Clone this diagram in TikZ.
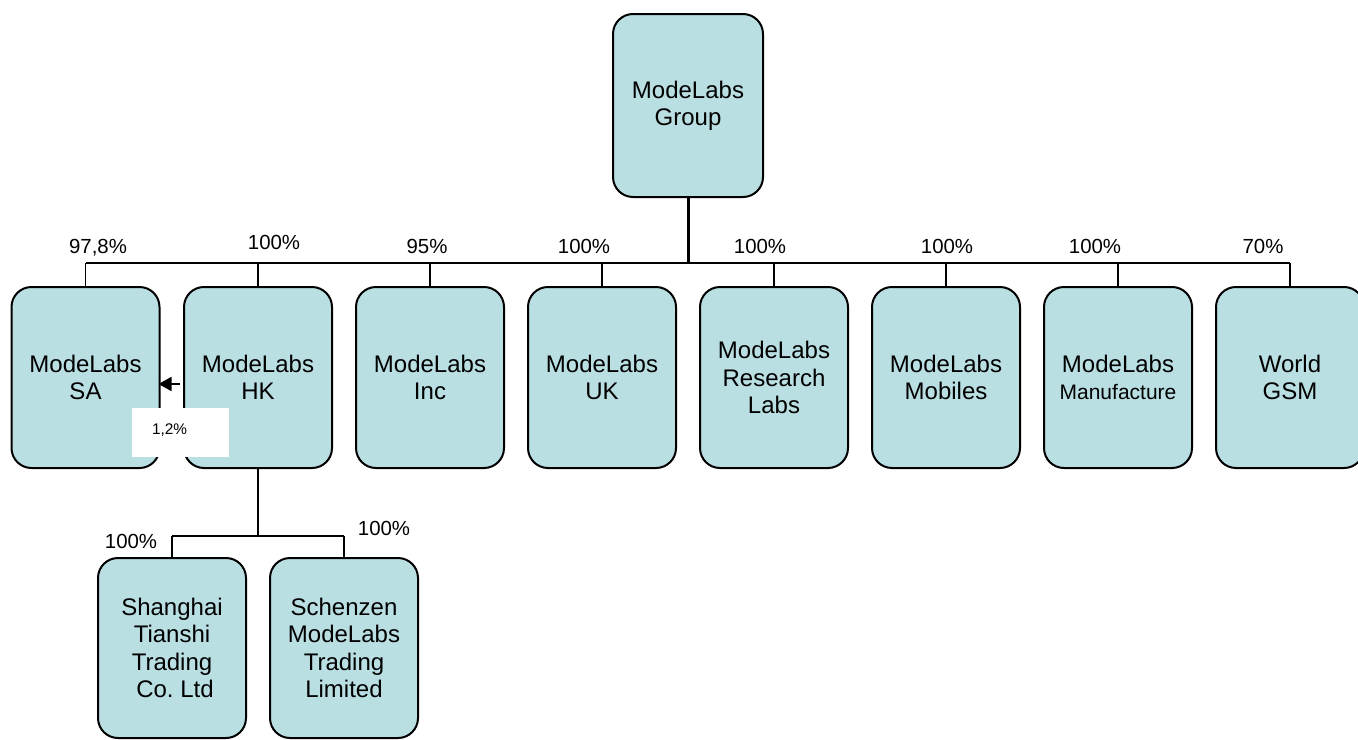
\documentclass[tikz,border=0pt]{standalone}
\usepackage{fontspec}
\setmainfont{Liberation Sans}
\usetikzlibrary{arrows.meta}
\frenchspacing
\definecolor{boxfill}{RGB}{185,223,227}
\tikzset{
  orgbox/.style={draw=black, line width=1pt, fill=boxfill, rounded corners=10pt,
    minimum width=74pt, minimum height=90.5pt, inner sep=0pt, align=center,
    font=\fontsize{12}{13.6}\selectfont},
  pct/.style={anchor=base, inner sep=0pt, font=\fontsize{10.2}{12}\selectfont},
  link/.style={draw=black, line width=0.8pt},
  stem/.style={draw=black, line width=1.5pt},
}
\begin{document}
\begin{tikzpicture}[x=0.5pt, y=-0.5pt]
\useasboundingbox (0,0) rectangle (1358,739);

% boxes
\node[orgbox, minimum width=75pt, minimum height=91.5pt] (grp) at (688,105.5) {ModeLabs\\Group};
\node[orgbox] (sa)  at (85.5,377.5)  {ModeLabs\\SA};
\node[orgbox] (hk)  at (258,377.5)   {ModeLabs\\HK};
\node[orgbox] (inc) at (430,377.5)   {ModeLabs\\Inc};
\node[orgbox] (uk)  at (602,377.5)   {ModeLabs\\UK};
\node[orgbox] (rl)  at (774,377.5)   {ModeLabs\\Research\\Labs};
\node[orgbox] (mob) at (946,377.5)   {ModeLabs\\Mobiles};
\node[orgbox] (man) at (1118,377.5)  {ModeLabs\\{\fontsize{10.5}{13.6}\selectfont Manufacture}};
\node[orgbox] (gsm) at (1290,377.5)  {World\\GSM};
\node[orgbox, minimum height=90pt] (sh) at (172,648) {Shanghai\\Tianshi\\Trading\\\hspace{3pt}Co. Ltd};
\node[orgbox, minimum height=90pt] (sz) at (344,648) {Schenzen\\ModeLabs\\Trading\\Limited};

% bus levels
\coordinate (busY) at (0,263);
\coordinate (subY) at (0,536);

% connectors
\draw[stem] (grp.south) -- (grp.south |- busY);
\draw[link] (sa.north |- busY) -- (gsm.north |- busY);
\foreach \n in {sa,hk,inc,uk,rl,mob,man,gsm}{
  \draw[link] (\n.north) -- (\n.north |- busY);
}
\draw[link] (hk.south) -- (hk.south |- subY);
\draw[link] (sh.north |- subY) -- (sz.north |- subY);
\draw[link] (sh.north) -- (sh.north |- subY);
\draw[link] (sz.north) -- (sz.north |- subY);

% percentages
\node[pct] (p1) at (98,253)   {97,8\%};
\node[pct] (p2) at (274,249)  {100\%};
\node[pct] (p3) at (427,253)  {95\%};
\node[pct] (p4) at (584,253)  {100\%};
\node[pct] (p5) at (760,253)  {100\%};
\node[pct] (p6) at (947,253)  {100\%};
\node[pct] (p7) at (1095,253) {100\%};
\node[pct] (p8) at (1263,253) {70\%};
\node[pct] (p9) at (131,548)  {100\%};
\node[pct] (p10) at (384,535) {100\%};

% cross holding arrow
\draw[link, -{Triangle[length=6.5pt, width=7pt]}, shorten <=1.5pt, shorten >=-1pt]
  ([yshift=-3.25pt]hk.west) -- ([yshift=-3.25pt]sa.east);

% white label box
\node[fill=white, minimum width=48.5pt, minimum height=24.5pt, inner sep=0pt,
      text width=28.5pt, inner xsep=10pt, align=left,
      font=\fontsize{7.7}{9}\selectfont] (cross) at (180.5,432.5) {\raisebox{3pt}{1,2\%}};
\end{tikzpicture}
\end{document}
